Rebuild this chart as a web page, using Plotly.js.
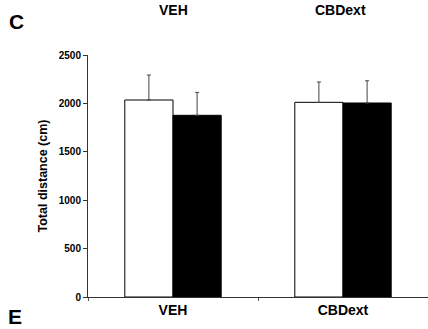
<!DOCTYPE html>
<html>
<head>
<meta charset="utf-8">
<script src="https://cdn.plot.ly/plotly-3.0.1.min.js"></script>
<style>html,body{margin:0;padding:0;background:#fff}#chart{width:428px;height:329px}</style>
</head>
<body>
<div id="chart"></div>
<script>
var categories = ["VEH", "CBDext"];
var whiteValues = [2035, 2011];
var whiteErrors = [258, 210];
var blackValues = [1877, 2004];
var blackErrors = [237, 230];
var yTicks = [0, 500, 1000, 1500, 2000, 2500];

var font = "Liberation Sans, Arial, sans-serif";
var figTop = 1 + 55 / 242;
var figBottom = -32 / 242;

var traces = [
  {
    type: "bar", x: categories, y: whiteValues,
    marker: {color: "#ffffff", line: {color: "#000000", width: 1}},
    error_y: {type: "data", symmetric: false, array: whiteErrors, arrayminus: [0, 0], color: "#444", thickness: 1, width: 2},
    showlegend: false, hoverinfo: "skip"
  },
  {
    type: "bar", x: categories, y: blackValues,
    marker: {color: "#000000", line: {color: "#000000", width: 1}},
    error_y: {type: "data", symmetric: false, array: blackErrors, arrayminus: [0, 0], color: "#444", thickness: 1, width: 2},
    showlegend: false, hoverinfo: "skip"
  }
];

var layout = {
  width: 428, height: 329,
  margin: {l: 88, r: 0, t: 55, b: 32},
  paper_bgcolor: "#fff", plot_bgcolor: "#fff",
  barmode: "group", bargap: 0.433, bargroupgap: 0,
  font: {family: font, color: "#000"},
  xaxis: {
    type: "category", range: [-0.5, 1.5], tickson: "boundaries",
    showline: true, linecolor: "#333", linewidth: 1,
    ticks: "outside", ticklen: 3, tickcolor: "#555",
    showgrid: false, zeroline: false, fixedrange: true,
    tickfont: {family: font, size: 14, color: "#000", weight: "bold"}
  },
  yaxis: {
    range: [0, 2500], tickvals: yTicks, ticktext: yTicks.map(String),
    showline: true, linecolor: "#333", linewidth: 1,
    ticks: "outside", ticklen: 4, tickcolor: "#333",
    showgrid: false, zeroline: false, fixedrange: true,
    tickfont: {family: font, size: 10, color: "#000", weight: "bold"},
    title: {text: "Total distance (cm)", font: {family: font, size: 12.5, color: "#000", weight: "bold"}, standoff: 8}
  },
  annotations: [
    {xref: "x", yref: "paper", x: 0, y: figTop, xanchor: "center", yanchor: "top", yshift: 0, text: "<b>VEH</b>", showarrow: false, font: {family: font, size: 14, color: "#000"}},
    {xref: "x", yref: "paper", x: 1, xshift: -3, y: figTop, xanchor: "center", yanchor: "top", yshift: 0, text: "<b>CBDext</b>", showarrow: false, font: {family: font, size: 14, color: "#000"}},
    {xref: "paper", yref: "paper", x: -88/340, xshift: 17, y: figTop, yshift: -8, xanchor: "center", yanchor: "top", text: "<b>C</b>", showarrow: false, font: {family: font, size: 21, color: "#000"}},
    {xref: "paper", yref: "paper", x: -88/340, xshift: 15, y: figBottom, yshift: 0, xanchor: "center", yanchor: "bottom", borderpad: 0, text: "<b>E</b>", showarrow: false, font: {family: font, size: 21, color: "#000"}}
  ]
};

Plotly.newPlot("chart", traces, layout, {staticPlot: true, displayModeBar: false});
</script>
</body>
</html>
